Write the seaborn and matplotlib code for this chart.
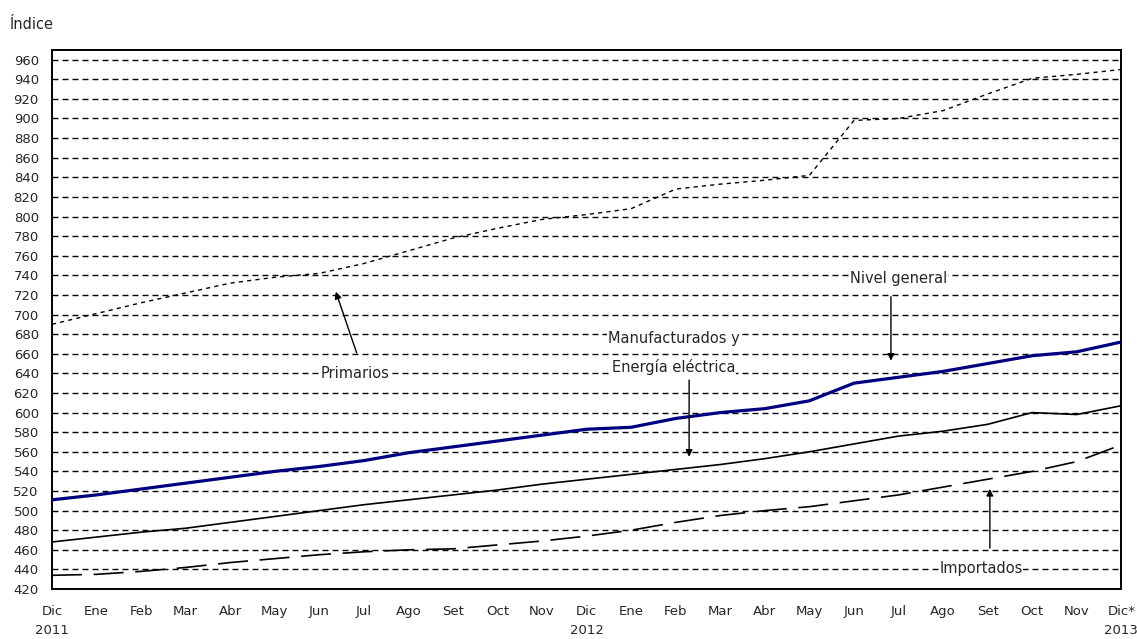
import pandas as pd
import matplotlib
matplotlib.use('Agg')
import matplotlib.pyplot as plt
import seaborn as sns

meses = ['Dic', 'Ene', 'Feb', 'Mar', 'Abr', 'May', 'Jun', 'Jul', 'Ago', 'Set', 'Oct', 'Nov',
         'Dic', 'Ene', 'Feb', 'Mar', 'Abr', 'May', 'Jun', 'Jul', 'Ago', 'Set', 'Oct', 'Nov', 'Dic*']
anios = {0: '2011', 12: '2012', 24: '2013'}

nivel_general = [511, 516, 522, 528, 534, 540, 545, 551, 559, 565, 571, 577,
                 583, 585, 594, 600, 604, 612, 630, 636, 642, 650, 658, 662, 672]
manufacturados = [468, 473, 478, 482, 488, 494, 500, 506, 511, 516, 521, 527,
                  532, 537, 542, 547, 553, 560, 568, 576, 581, 588, 600, 598, 607]
importados = [434, 435, 438, 442, 447, 451, 455, 458, 460, 461, 465, 469,
              474, 480, 488, 495, 500, 504, 510, 516, 524, 532, 540, 550, 567]
primarios = [690, 701, 712, 722, 732, 738, 742, 752, 765, 778, 788, 797,
             802, 808, 828, 833, 837, 842, 898, 900, 908, 925, 941, 945, 950]

yticks = list(range(420, 961, 20))

sns.set_style('white')
plt.rcParams['font.family'] = ['DejaVu Sans']

fig = plt.figure(figsize=(11.37, 6.39), dpi=100)
ax = fig.add_axes([0.0457, 0.0782, 0.9405, 0.8438])

x = list(range(len(meses)))

# grid first, behind the series
for v in yticks[1:]:
    ax.axhline(v, color='black', lw=1.0, ls=(0, (4.3, 2.9)), zorder=1)

df = pd.DataFrame({'x': x, 'nivel': nivel_general, 'manu': manufacturados,
                   'imp': importados, 'prim': primarios})

sns.lineplot(data=df, x='x', y='prim', ax=ax, color='black', lw=1.0,
             linestyle=(0, (3, 3)), zorder=3)
sns.lineplot(data=df, x='x', y='imp', ax=ax, color='black', lw=1.2,
             linestyle=(0, (18, 7)), zorder=3)
sns.lineplot(data=df, x='x', y='manu', ax=ax, color='black', lw=1.2, zorder=3)
sns.lineplot(data=df, x='x', y='nivel', ax=ax, color='#000080', lw=2.3, zorder=4)

ax.set_xlim(0, 24)
ax.set_ylim(420, 970)
ax.set_yticks(yticks)
ax.set_yticklabels([str(v) for v in yticks], fontsize=9.5)
ax.set_xticks(x)
ax.set_xticklabels([m + ('\n' + anios[i] if i in anios else '') for i, m in enumerate(meses)],
                   fontsize=9.5, linespacing=1.6)
ax.set_xlabel('')
ax.set_ylabel('')
ax.tick_params(axis='y', direction='inout', length=7, width=1.2, color='black', pad=6)
ax.tick_params(axis='x', direction='inout', length=7, width=1.2, color='black', pad=8)
for s in ax.spines.values():
    s.set_color('black')
    s.set_linewidth(1.4)

fs = 10.5
box = dict(facecolor='white', edgecolor='none', pad=0.5)
arrow = dict(arrowstyle='-|>', color='black', lw=1.0, mutation_scale=10)

ax.text(6.8, 640, 'Primarios', fontsize=fs, ha='center', va='center', zorder=5, bbox=box)
ax.annotate('', xy=(6.35, 726), xytext=(6.86, 658), arrowprops=arrow, zorder=5)

ax.text(13.95, 676, 'Manufacturados y', fontsize=fs, ha='center', va='center', zorder=5, bbox=box)
ax.text(13.95, 646, 'Energía eléctrica', fontsize=fs, ha='center', va='center', zorder=5, bbox=box)
ax.annotate('', xy=(14.3, 552), xytext=(14.3, 636), arrowprops=arrow, zorder=5)

ax.text(19.0, 737, 'Nivel general', fontsize=fs, ha='center', va='center', zorder=5, bbox=box)
ax.annotate('', xy=(18.83, 650), xytext=(18.83, 721), arrowprops=arrow, zorder=5)

ax.text(20.85, 441, 'Importados', fontsize=fs, ha='center', va='center', zorder=5, bbox=box)
ax.annotate('', xy=(21.05, 525), xytext=(21.05, 459), arrowprops=arrow, zorder=5)

fig.text(0.009, 0.962, 'Índice', fontsize=10.5, ha='left', va='center')

plt.savefig('out.png', dpi=100)
